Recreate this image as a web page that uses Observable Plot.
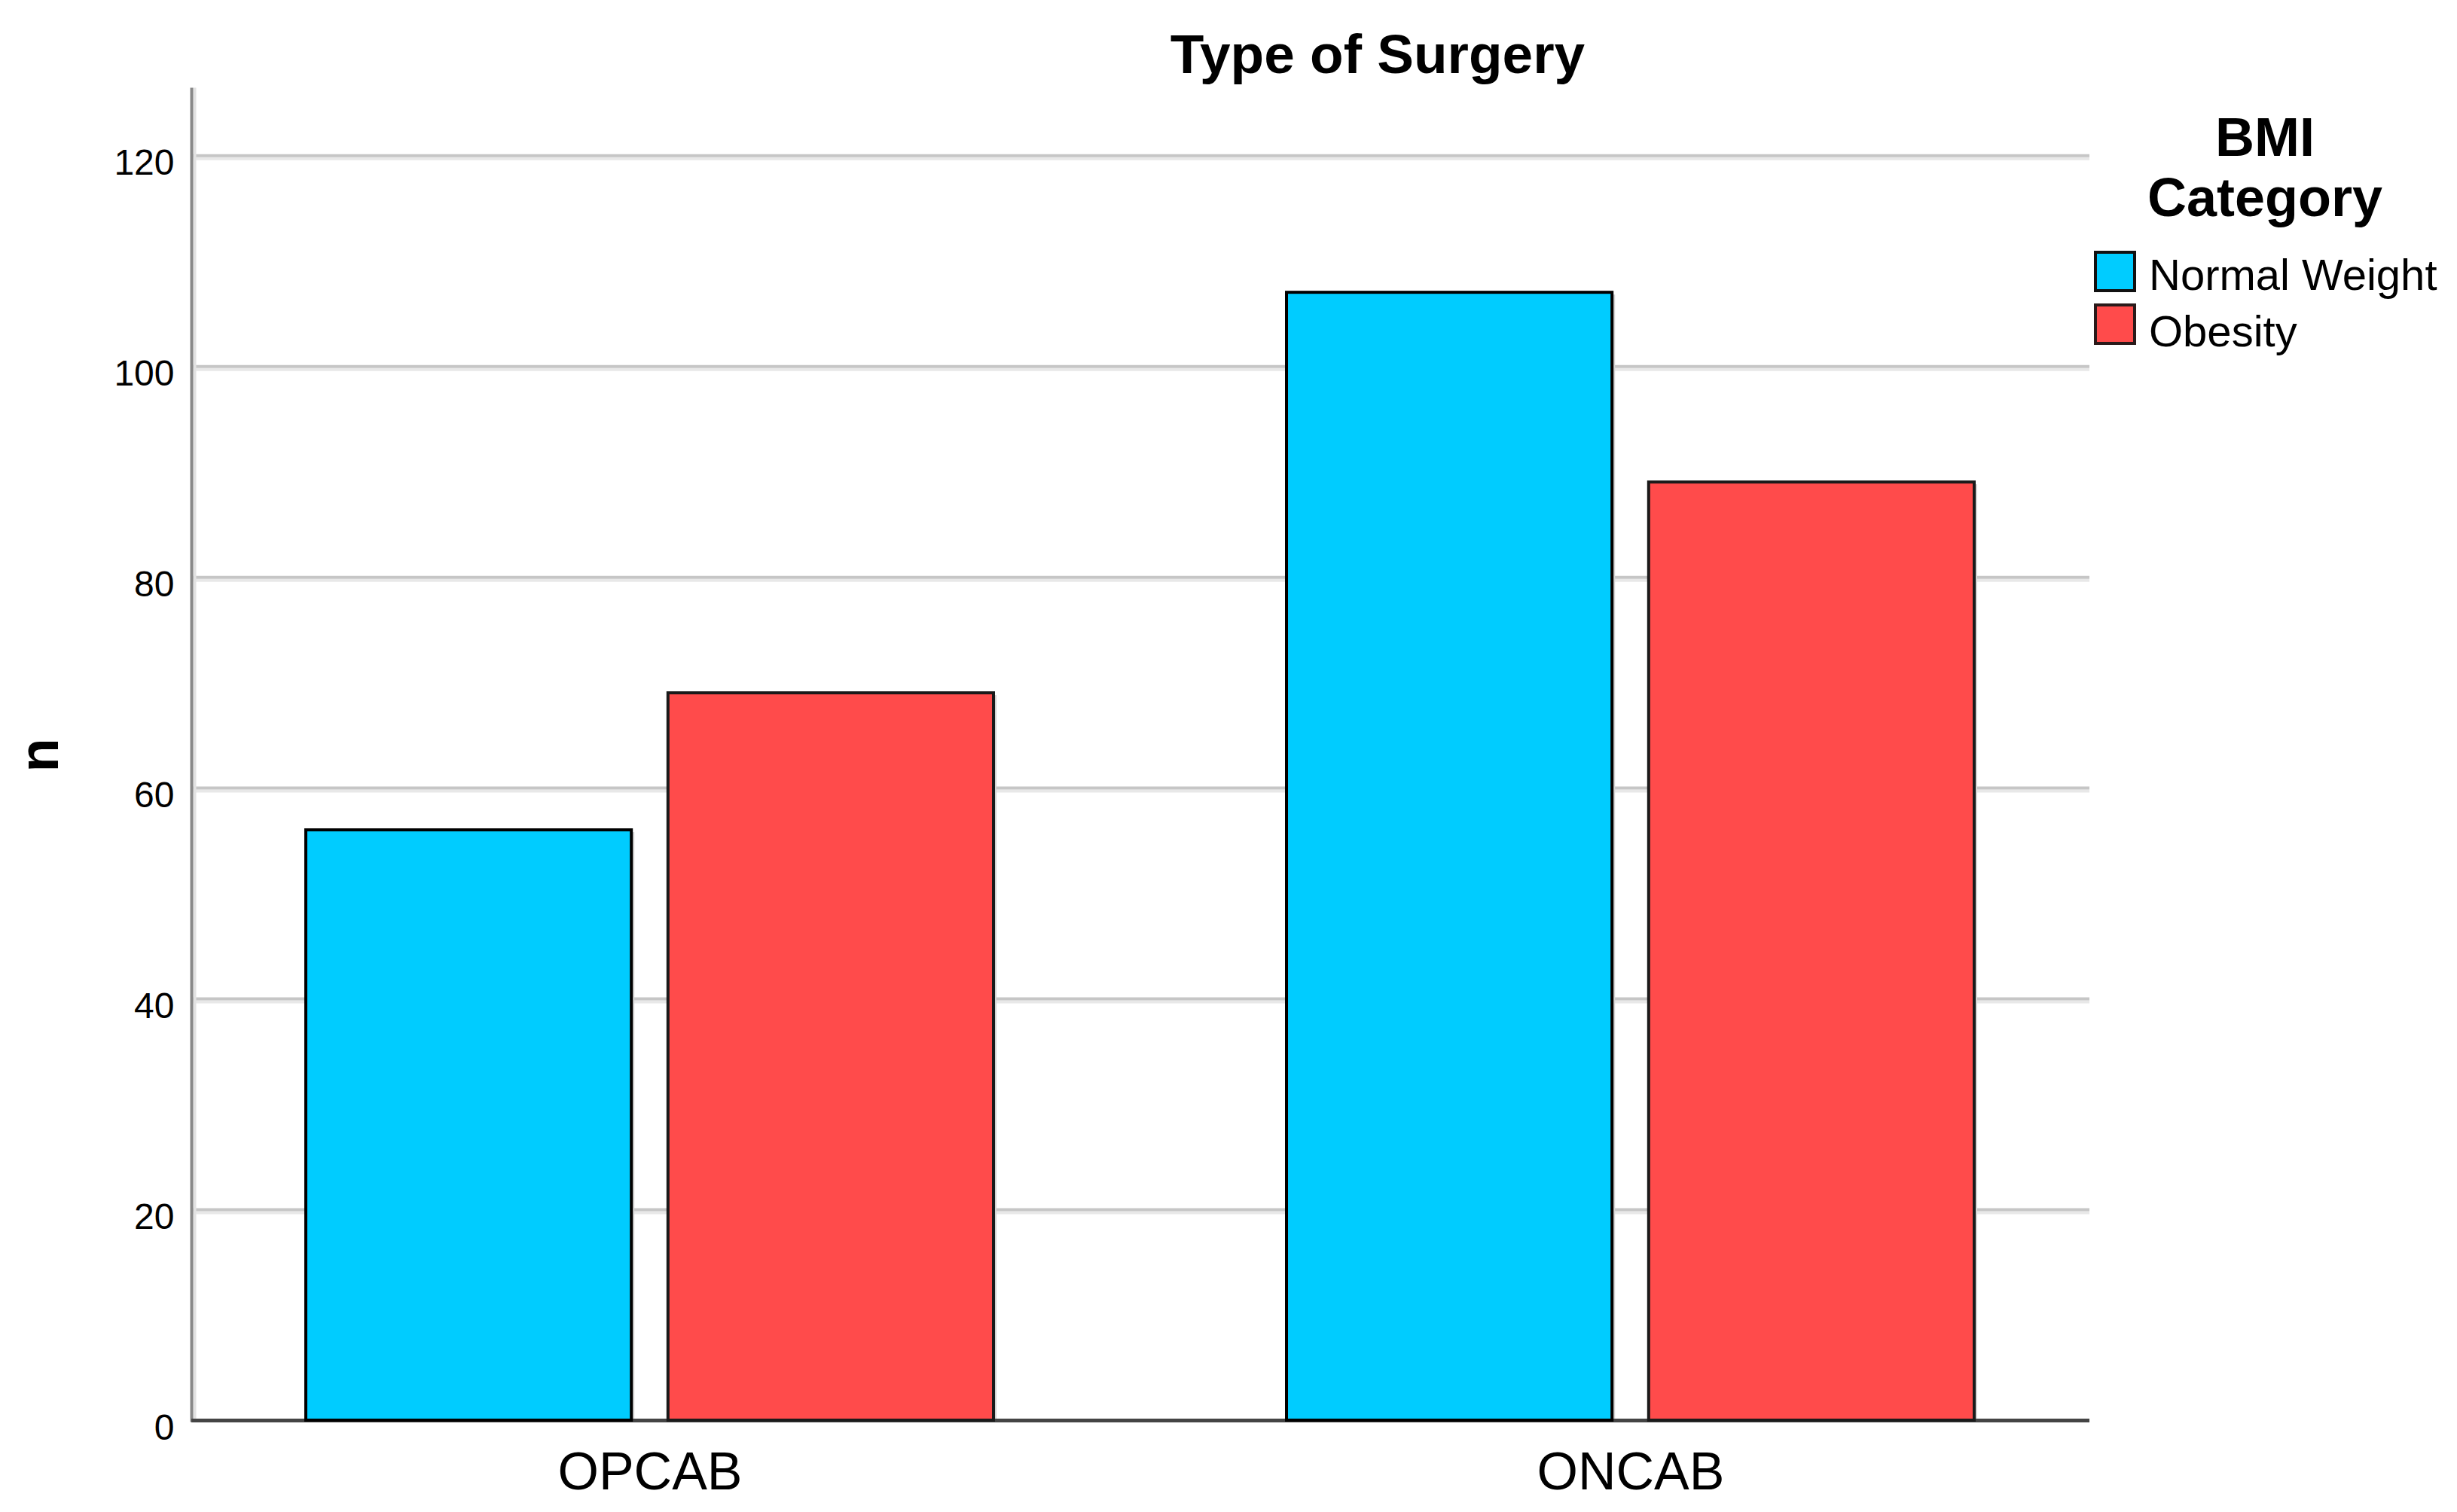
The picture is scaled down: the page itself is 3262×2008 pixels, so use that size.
<!DOCTYPE html>
<html>
<head>
<meta charset="utf-8">
<script src="https://cdn.jsdelivr.net/npm/d3@7"></script>
<script src="https://cdn.jsdelivr.net/npm/@observablehq/plot@0.6"></script>
<style>
  html, body { margin: 0; padding: 0; background: #fff; }
  #wrap { position: relative; width: 3262px; height: 2008px; overflow: hidden; font-family: "Liberation Sans", Arial, sans-serif; color: #000; }
  #wrap svg { position: absolute; left: 0; top: 0; }
  .t { position: absolute; white-space: nowrap; line-height: 1; }
  .sw { position: absolute; width: 56px; height: 55px; box-sizing: border-box; border: 4px solid #111; }
</style>
</head>
<body>
<div id="wrap"></div>
<script>
// ---- data ----
const surgeryTypes = ["OPCAB", "ONCAB"];
const bmiCategories = ["Normal Weight", "Obesity"];
const normalWeightCounts = [56, 107];
const obesityCounts = [69, 89];
const yTicks = [0, 20, 40, 60, 80, 100, 120];
const bmiColors = ["#00CCFF", "#FF4B4B"];
const chartTitle = "Type of Surgery";
const yTitle = "n";
const legendTitle = ["BMI", "Category"];

const rows = [];
surgeryTypes.forEach((s, i) => {
  rows.push({surgery: s, bmi: bmiCategories[0], n: normalWeightCounts[i]});
  rows.push({surgery: s, bmi: bmiCategories[1], n: obesityCounts[i]});
});

// ---- layout ----
const W = 3262, H = 2008;
const ml = 254, mr = 488, mt = 118, mb = 122;
const padIn = 0.2985, padOut = 0.1166;
const step = (W - ml - mr) / (surgeryTypes.length - padIn + 2 * padOut);
const bw = step * (1 - padIn);
const inset = bw * 0.5262;

const shadow = "#d4d4d4";
const chart = Plot.plot({
  width: W,
  height: H,
  marginLeft: ml,
  marginRight: mr,
  marginTop: mt,
  marginBottom: mb,
  style: {fontFamily: "'Liberation Sans', Arial, sans-serif", color: "#000", background: "transparent"},
  x: {domain: surgeryTypes, paddingInner: padIn, paddingOuter: padOut, axis: null},
  y: {domain: [0, 126.3], axis: null},
  color: {domain: bmiCategories, range: bmiColors},
  marks: [
    Plot.ruleY(yTicks.slice(1), {stroke: "#e8e8e8", strokeWidth: 4, dy: 4}),
    Plot.ruleY(yTicks.slice(1), {stroke: "#c6c6c6", strokeWidth: 4}),
    Plot.frame({anchor: "left", stroke: "#e2e2e2", strokeWidth: 4, dx: 4}),
    Plot.frame({anchor: "left", stroke: "#888888", strokeWidth: 4}),
    Plot.barY(rows.filter(d => d.bmi === bmiCategories[0]), {x: "surgery", y: "n", fill: shadow, insetRight: inset, dx: 4, dy: 3}),
    Plot.barY(rows.filter(d => d.bmi === bmiCategories[1]), {x: "surgery", y: "n", fill: shadow, insetLeft: inset, dx: 4, dy: 3}),
    Plot.ruleY([0], {stroke: "#444444", strokeWidth: 5}),
    Plot.barY(rows.filter(d => d.bmi === bmiCategories[0]), {x: "surgery", y: "n", fill: "bmi", stroke: "#000", strokeWidth: 4, insetRight: inset}),
    Plot.barY(rows.filter(d => d.bmi === bmiCategories[1]), {x: "surgery", y: "n", fill: "bmi", stroke: "#1a1a1a", strokeWidth: 4, insetLeft: inset}),
    Plot.axisY({ticks: yTicks, tickSize: 0, tickPadding: 23, fontSize: 48, label: null, dy: 10, tickFormat: d => String(d)}),
    Plot.axisX({tickSize: 0, tickPadding: 42, fontSize: 70, label: null})
  ]
});

const wrap = document.getElementById("wrap");
wrap.appendChild(chart);

function addText(txt, opts) {
  const d = document.createElement("div");
  d.className = "t";
  d.textContent = txt;
  Object.assign(d.style, opts);
  wrap.appendChild(d);
  return d;
}
// title
addText(chartTitle, {left: "1829px", top: (97 - 0.8465 * 73) + "px", fontSize: "73px", fontWeight: "bold", transform: "translateX(-50%)"});
// y title
addText(yTitle, {left: "52px", top: "1003px", fontSize: "74px", fontWeight: "bold", transform: "translate(-50%,-50%) rotate(-90deg)"});
// legend title: one block of two lines
const lt = document.createElement("div");
lt.className = "t";
Object.assign(lt.style, {left: "3007px", top: "142px", fontSize: "72px", fontWeight: "bold", lineHeight: "80px", textAlign: "center", transform: "translateX(-50%)"});
legendTitle.forEach((line, i) => {
  if (i > 0) lt.appendChild(document.createElement("br"));
  lt.appendChild(document.createTextNode(line));
});
wrap.appendChild(lt);
// legend items
const itemBaselines = [385, 460];
const swatchTops = [333, 403];
bmiCategories.forEach((c, i) => {
  const s = document.createElement("div");
  s.className = "sw";
  s.style.left = "2780px";
  s.style.top = swatchTops[i] + "px";
  s.style.background = bmiColors[i];
  if (i === 1) s.style.borderColor = "#2a1a1a";
  wrap.appendChild(s);
  addText(c, {left: "2853px", top: (itemBaselines[i] - 0.7715 * 58) + "px", fontSize: "58px", lineHeight: "0.85"});
});
</script>
</body>
</html>
